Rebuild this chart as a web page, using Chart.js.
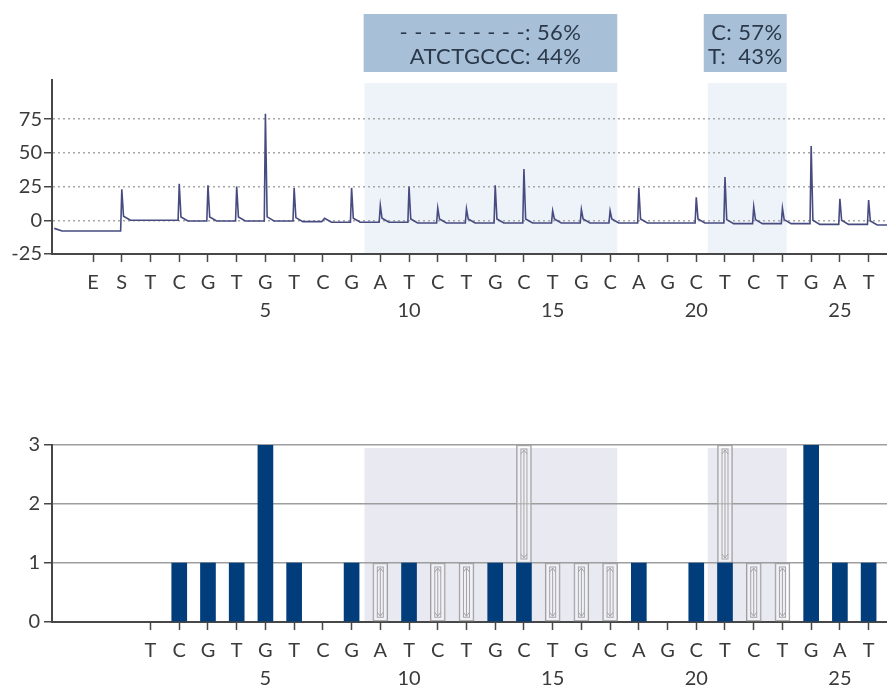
<!DOCTYPE html>
<html>
<head>
<meta charset="utf-8">
<script src="https://cdn.jsdelivr.net/npm/chart.js@4.4.1/dist/chart.umd.min.js"></script>
<style>
  body { margin: 0; background: #fff; width: 887px; height: 686px; overflow: hidden; position: relative; }
  #trace { position: absolute; left: 0; top: 0; }
  #bars { position: absolute; left: 0; top: 360px; }
</style>
</head>
<body>
<canvas id="trace" width="887" height="340" style="width:887px;height:340px"></canvas>
<canvas id="bars" width="887" height="326" style="width:887px;height:326px"></canvas>
<script>
const X_MIN = -2.43
const X_MAX = 26.64

// dispensation order (E = enzyme, S = substrate, then 1..26)
const positions = [-1, 0, 1, 2, 3, 4, 5, 6, 7, 8, 9, 10, 11, 12, 13, 14, 15, 16, 17, 18, 19, 20, 21, 22, 23, 24, 25, 26]
const dispensations = ['E', 'S', 'T', 'C', 'G', 'T', 'G', 'T', 'C', 'G', 'A', 'T', 'C', 'T', 'G', 'C', 'T', 'G', 'C', 'A', 'G', 'C', 'T', 'C', 'T', 'G', 'A', 'T']

// pyrogram: peak top and baseline level after each dispensation
const peak_heights = [-8, 23, 0, 27, 26, 25, 79, 24, 0, 24, 11, 25, 9, 8.5, 26, 38, 7, 8, 7, 24, -2, 17, 32, 10, 9, 55, 16, 15]
const baseline = [-8, 0, 0, -0.5, -0.5, -0.5, -0.5, -1, -1.5, -1.5, -1.5, -2, -2, -2, -2, -2, -2, -2, -2, -2, -2, -2, -2.5, -2.5, -2.5, -3, -3, -3.5]
const trace_start = -6
const y_ticks = [-25, 0, 25, 50, 75]

// histogram: expected peak heights
const bar_positions = [2, 3, 4, 5, 6, 8, 10, 13, 14, 18, 20, 21, 24, 25, 26]
const bar_heights = [1, 1, 1, 3, 1, 1, 1, 1, 1, 1, 1, 1, 3, 1, 1]
const variable_positions = [9, 11, 12, 14, 15, 16, 17, 21, 22, 23]
const variable_low = [0, 0, 0, 1, 0, 0, 0, 1, 0, 0]
const variable_high = [1, 1, 1, 3, 1, 1, 1, 3, 1, 1]

// variable regions and their results
const regions = [[8.45, 17.25], [20.4, 23.15]]
const label_boxes = [[8.42, 17.25], [20.26, 23.15]]
const region_labels = [
    ['- - - - - - - - -: 56%', 'ATCTGCCC: 44%'],
    ['C: 57%', 'T:  43%']
]

const TEXT = '#3b3b3b'
const AXIS = '#474747'
Chart.defaults.font.family = 'Lato'
Chart.defaults.font.size = 20
Chart.defaults.color = TEXT

function build_trace() {
    let pts = [{x: X_MIN + 0.08, y: trace_start}, {x: X_MIN + 0.35, y: baseline[0]}]
    for (let i = 1; i < positions.length; i++) {
        let p = positions[i]
        let b = baseline[i]
        let h = peak_heights[i]
        pts.push({x: p - 0.04, y: baseline[i - 1]})
        if (h > b + 1) {
            pts.push({x: p, y: h})
            pts.push({x: p + 0.06, y: b + 3})
        }
        pts.push({x: p + 0.3, y: b})
    }
    pts.push({x: X_MAX, y: baseline[baseline.length - 1]})
    return pts
}

function x_label(value, show_from) {
    let i = positions.indexOf(value)
    if (i < show_from) return ''
    let letter = dispensations[i]
    if (value > 0 && value % 5 === 0) return [letter, String(value)]
    return letter
}

function region_plugin(fill) {
    return {
        id: 'regions',
        beforeDraw(chart) {
            const ctx = chart.ctx
            const x = chart.scales.x
            const area = chart.chartArea
            ctx.save()
            ctx.fillStyle = fill
            regions.forEach(r => {
                let x0 = x.getPixelForValue(r[0])
                let x1 = x.getPixelForValue(r[1])
                ctx.fillRect(x0, area.top + 3, x1 - x0, area.bottom - area.top - 3)
            })
            ctx.restore()
        }
    }
}

const label_plugin = {
    id: 'region_labels',
    afterDraw(chart) {
        const ctx = chart.ctx
        const x = chart.scales.x
        ctx.save()
        ctx.font = '22px Lato'
        ctx.letterSpacing = '0.4px'
        ctx.textAlign = 'right'
        ctx.textBaseline = 'middle'
        label_boxes.forEach((r, i) => {
            let x0 = x.getPixelForValue(r[0])
            let x1 = x.getPixelForValue(r[1])
            ctx.fillStyle = '#a8c0d7'
            ctx.fillRect(x0, 14, x1 - x0, 58)
            let lines = region_labels[i]
            let w = Math.max(...lines.map(l => ctx.measureText(l).width))
            let right = (x0 + x1) / 2 + w / 2
            ctx.fillStyle = '#2a384a'
            lines.forEach((l, j) => ctx.fillText(l, right, 33 + j * 24))
        })
        ctx.restore()
    }
}

const arrow_plugin = {
    id: 'arrows',
    afterDatasetsDraw(chart) {
        const ctx = chart.ctx
        const meta = chart.getDatasetMeta(1)
        ctx.save()
        ctx.strokeStyle = '#a5a5a8'
        ctx.lineWidth = 1
        meta.data.forEach(bar => {
            let p = bar.getProps(['x', 'y', 'base'], true)
            let top = Math.min(p.y, p.base) + 4
            let bottom = Math.max(p.y, p.base) - 4
            ctx.strokeRect(p.x - 3, top, 6, bottom - top)
            ctx.beginPath()
            ctx.moveTo(p.x - 3, top + 5); ctx.lineTo(p.x, top + 1); ctx.lineTo(p.x + 3, top + 5)
            ctx.moveTo(p.x - 3, bottom - 5); ctx.lineTo(p.x, bottom - 1); ctx.lineTo(p.x + 3, bottom - 5)
            ctx.moveTo(p.x, top + 1); ctx.lineTo(p.x, bottom - 1)
            ctx.stroke()
        })
        ctx.restore()
    }
}

function x_scale(show_from, height) {
    return {
        type: 'linear',
        min: X_MIN,
        max: X_MAX,
        offset: false,
        afterBuildTicks: s => { s.ticks = positions.slice(show_from).map(v => ({value: v})) },
        afterFit: s => { s.height = height },
        grid: {drawOnChartArea: false, drawTicks: true, tickLength: 8, tickColor: AXIS, tickWidth: 1.5, offset: false},
        border: {color: AXIS, width: 2},
        ticks: {
            autoSkip: false,
            maxRotation: 0,
            padding: 7,
            font: {size: 20, lineHeight: 1.37},
            callback: v => x_label(v, show_from)
        }
    }
}

function main() {
    new Chart(document.getElementById('trace'), {
        type: 'line',
        data: {
            datasets: [{
                data: build_trace(),
                borderColor: '#474b80',
                borderWidth: 1.6,
                pointRadius: 0,
                tension: 0
            }]
        },
        options: {
            responsive: false,
            animation: false,
            layout: {padding: {top: 80, left: 0, right: 0, bottom: 0}},
            plugins: {legend: {display: false}, tooltip: {enabled: false}},
            scales: {
                x: x_scale(0, 86),
                y: {
                    min: -25,
                    max: 104,
                    afterBuildTicks: s => { s.ticks = y_ticks.map(v => ({value: v})) },
                    afterFit: s => { s.width = 52 },
                    grid: {
                        color: c => c.tick.value === -25 ? 'rgba(0,0,0,0)' : '#a8a8a8',
                        lineWidth: 1.5,
                        tickLength: 8,
                        tickColor: AXIS,
                        tickWidth: 1.5
                    },
                    border: {color: AXIS, width: 2, dash: [2, 3]},
                    ticks: {padding: 2, font: {size: 20}}
                }
            }
        },
        plugins: [region_plugin('#eef3f9'), label_plugin]
    })

    new Chart(document.getElementById('bars'), {
        type: 'bar',
        data: {
            datasets: [{
                data: bar_positions.map((p, i) => ({x: p, y: bar_heights[i]})),
                backgroundColor: '#003d7a',
                barThickness: 15,
                grouped: false
            }, {
                data: variable_positions.map((p, i) => ({x: p, y: [variable_low[i], variable_high[i]]})),
                backgroundColor: 'rgba(255,255,255,0.35)',
                borderColor: '#9c9ca0',
                borderWidth: 1,
                borderSkipped: false,
                barThickness: 15,
                grouped: false
            }]
        },
        options: {
            responsive: false,
            animation: false,
            layout: {padding: {top: 85, left: 0, right: 0, bottom: 0}},
            plugins: {legend: {display: false}, tooltip: {enabled: false}},
            scales: {
                x: x_scale(2, 64),
                y: {
                    min: 0,
                    max: 3,
                    afterFit: s => { s.width = 52 },
                    grid: {
                        color: c => c.tick.value === 0 ? 'rgba(0,0,0,0)' : '#9e9e9e',
                        lineWidth: 1.5,
                        tickLength: 8,
                        tickColor: AXIS,
                        tickWidth: 1.5
                    },
                    border: {color: AXIS, width: 2},
                    ticks: {stepSize: 1, padding: 4, font: {size: 20}}
                }
            }
        },
        plugins: [region_plugin('#e9e9f1'), arrow_plugin]
    })
}

main()
</script>
</body>
</html>
